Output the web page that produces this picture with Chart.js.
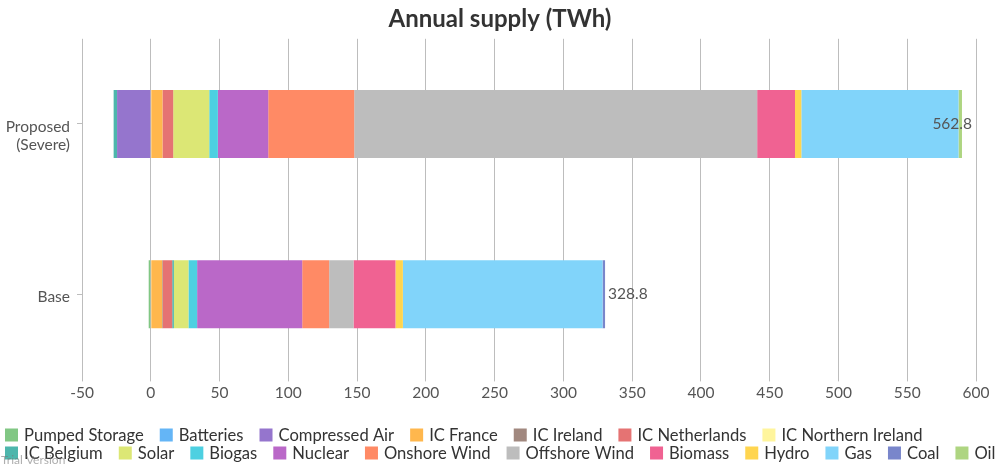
<!DOCTYPE html>
<html>
<head>
<meta charset="utf-8">
<title>Annual supply</title>
<script src="https://cdn.jsdelivr.net/npm/chart.js@4"></script>
<style>
  body { margin: 0; background: #fff; }
  #wrap { width: 1000px; height: 465px; position: relative; }
</style>
</head>
<body>
<div id="wrap"><canvas id="chart"></canvas></div>
<script>
// categories (top to bottom); second line kept so both labels sit the same way
const categories = [["Proposed", "(Severe)"], ["Base", ""]];

const seriesNames = [
  "Pumped Storage", "Batteries", "Compressed Air", "IC France", "IC Ireland",
  "IC Netherlands", "IC Northern Ireland", "IC Belgium", "Solar", "Biogas",
  "Nuclear", "Onshore Wind", "Offshore Wind", "Biomass", "Hydro", "Gas",
  "Coal", "Oil"
];

// TWh per series, same order as seriesNames
const proposedValues = [
  0, 0, -24.5, 8.5, 0, 7.8, 0, -2.5, 26.2, 6.3,
  36.6, 62.5, 293, 27.5, 4.6, 114.3, 0, 2.5
];
const baseValues = [
  -1.5, 0, 0, 8.3, 0.5, 6.8, 0, 1.2, 10.6, 6.3,
  76.4, 19.6, 17.7, 30.5, 5.4, 145.2, 1.8, 0
];

const xTicks = { min: -50, max: 600, step: 50 };

const seriesColors = [
  "#81C784", "#64B5F6", "#9575CD", "#FFB74D", "#A1887F",
  "#E57373", "#FFF59D", "#4DB6AC", "#DCE775", "#4DD0E1",
  "#BA68C8", "#FF8A65", "#BDBDBD", "#F06292", "#FFD54F",
  "#81D4FA", "#7986CB", "#AED581"
];

const fontFamily = "Lato, 'Open Sans', sans-serif";
const textColor = "#555555";

const datasets = seriesNames.map((name, i) => ({
  label: name,
  data: [proposedValues[i], baseValues[i]],
  backgroundColor: seriesColors[i],
  borderWidth: 0,
  barPercentage: 0.4,
  categoryPercentage: 1.0
}));

// total label at the end of each bar
const totalLabels = {
  id: "totalLabels",
  afterDatasetsDraw(chart) {
    const ctx = chart.ctx;
    const xScale = chart.scales.x;
    const yScale = chart.scales.y;
    const area = chart.chartArea;
    ctx.save();
    ctx.font = "15.5px " + fontFamily;
    ctx.fillStyle = textColor;
    ctx.textBaseline = "middle";
    ctx.textAlign = "left";
    [proposedValues, baseValues].forEach((vals, idx) => {
      let pos = 0, total = 0;
      vals.forEach((v) => { total += v; if (v > 0) pos += v; });
      const txt = total.toFixed(1);
      const w = ctx.measureText(txt).width;
      let x = xScale.getPixelForValue(pos) + 3;
      if (x + w > area.right - 4) x = area.right - 4 - w;
      ctx.fillText(txt, x, yScale.getPixelForValue(idx));
    });
    ctx.restore();
  }
};

// legend in two tight rows, plus the trial watermark
const bottomLegend = {
  id: "bottomLegend",
  afterDraw(chart) {
    const ctx = chart.ctx;
    ctx.save();
    ctx.font = "16.6px " + fontFamily;
    ctx.textBaseline = "middle";
    ctx.textAlign = "left";
    let x = 5, y = 435;
    chart.data.datasets.forEach((ds) => {
      const w = 13 + 6 + ctx.measureText(ds.label).width;
      if (x + w > chart.width) { x = 5; y += 18; }
      ctx.fillStyle = ds.backgroundColor;
      ctx.fillRect(x, y - 6.5, 13, 13);
      ctx.fillStyle = "#333333";
      ctx.fillText(ds.label, x + 19, y + 1);
      x += w + 16;
    });
    ctx.font = "12px " + fontFamily;
    ctx.fillStyle = "rgba(120,120,120,0.6)";
    ctx.textBaseline = "alphabetic";
    ctx.fillText("Trial Version", 1, 464);
    ctx.restore();
  }
};

new Chart(document.getElementById("chart"), {
  type: "bar",
  data: { labels: categories, datasets: datasets },
  plugins: [totalLabels, bottomLegend],
  options: {
    indexAxis: "y",
    responsive: true,
    maintainAspectRatio: false,
    animation: false,
    layout: { padding: { left: 0, right: 0, top: 0, bottom: 61 } },
    plugins: {
      title: {
        display: true,
        text: "Annual supply (TWh)",
        color: "#333333",
        font: { family: fontFamily, size: 24, weight: "bold" },
        padding: { top: 5, bottom: 5 }
      },
      legend: { display: false },
      tooltip: { enabled: false }
    },
    scales: {
      x: {
        stacked: true,
        min: xTicks.min,
        max: xTicks.max,
        ticks: {
          stepSize: xTicks.step,
          color: textColor,
          padding: 2,
          font: { family: fontFamily, size: 15.5 }
        },
        grid: { color: "#bdbdbd", tickLength: 2 },
        border: { display: false },
        afterFit(scale) { scale.paddingRight = 24; }
      },
      y: {
        stacked: true,
        ticks: {
          color: textColor,
          padding: 7,
          labelOffset: 12,
          font: { family: fontFamily, size: 15.5 }
        },
        grid: { drawOnChartArea: false, offset: false, color: "#bdbdbd", tickLength: 5 },
        border: { display: false },
        afterFit(scale) { scale.width = 82; }
      }
    }
  }
});
</script>
</body>
</html>
